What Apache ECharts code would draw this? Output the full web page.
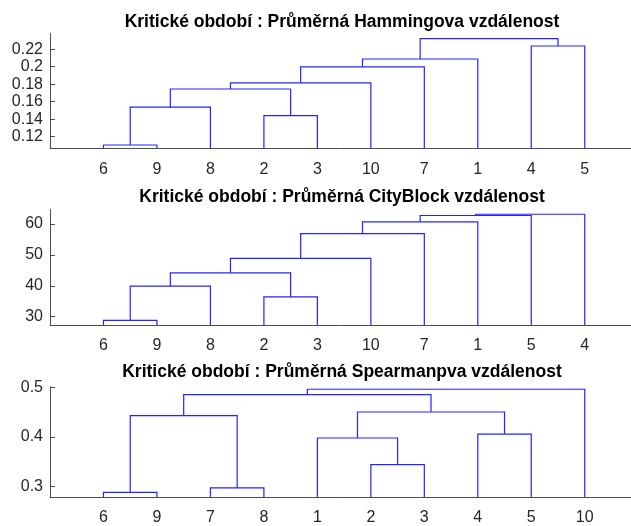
<!DOCTYPE html>
<html>
<head>
<meta charset="utf-8">
<script src="https://cdn.jsdelivr.net/npm/echarts@6/dist/echarts.min.js"></script>
<style>
  html, body { margin: 0; padding: 0; background: #fff; }
  #chart { width: 631px; height: 526px; }
</style>
</head>
<body>
<div id="chart"></div>
<script>
// Leaf order along the x axis for each dendrogram
const hammingOrder   = [6, 9, 8, 2, 3, 10, 7, 1, 4, 5];
const cityBlockOrder = [6, 9, 8, 2, 3, 10, 7, 1, 5, 4];
const spearmanOrder  = [6, 9, 7, 8, 1, 2, 3, 4, 5, 10];

// Linkage rows [childA, childB, height]; leaves are 1..10, clusters 11..19
const hammingLinks = [
  [6, 9, 0.1105],
  [2, 3, 0.1440],
  [11, 8, 0.1537],
  [13, 12, 0.1745],
  [14, 10, 0.1815],
  [15, 7, 0.1997],
  [16, 1, 0.2088],
  [4, 5, 0.2237],
  [17, 18, 0.2322]
];
const cityBlockLinks = [
  [6, 9, 28.8],
  [2, 3, 36.4],
  [11, 8, 39.9],
  [13, 12, 44.2],
  [14, 10, 48.9],
  [15, 7, 56.9],
  [16, 1, 60.7],
  [17, 5, 62.75],
  [18, 4, 63.15]
];
const spearmanLinks = [
  [6, 9, 0.2875],
  [7, 8, 0.2967],
  [2, 3, 0.3440],
  [1, 13, 0.3980],
  [4, 5, 0.4060],
  [11, 12, 0.4435],
  [14, 15, 0.4507],
  [16, 17, 0.4860],
  [18, 10, 0.4968]
];

// y tick labels
const hammingTicks   = [0.12, 0.14, 0.16, 0.18, 0.2, 0.22];
const cityBlockTicks = [30, 40, 50, 60];
const spearmanTicks  = [0.3, 0.4, 0.5];

const titles = [
  'Kritické období : Průměrná Hammingova vzdálenost',
  'Kritické období : Průměrná CityBlock vzdálenost',
  'Kritické období : Průměrná Spearmanpva vzdálenost'
];

// Turn linkage rows into U-shaped link records in data units
function buildLinks(order, Z) {
  const n = order.length;
  const nodes = {};
  order.forEach((leaf, i) => { nodes[leaf] = { x: i + 1, h: 0, leaf: 1 }; });
  const out = [];
  Z.forEach((row, j) => {
    const a = nodes[row[0]], b = nodes[row[1]], h = row[2];
    out.push([a.x, a.h, b.x, b.h, h, a.leaf, b.leaf]);
    nodes[n + 1 + j] = { x: (a.x + b.x) / 2, h: h, leaf: 0 };
  });
  return out;
}

const FONT = "'Liberation Sans', Arial, sans-serif";
const AXIS_COLOR = '#4d4d4d';
const TEXT_COLOR = '#262626';
const LINK_COLOR = '#2424ff';

const panels = [
  { order: hammingOrder,   links: hammingLinks,   ticks: hammingTicks,   min: 0.1067, max: 0.2382, top: 33.3,  height: 115, titleY: 22 },
  { order: cityBlockOrder, links: cityBlockLinks, ticks: cityBlockTicks, min: 27.31,  max: 64.76,  top: 209.3, height: 115.7, titleY: 197 },
  { order: spearmanOrder,  links: spearmanLinks,  ticks: spearmanTicks,  min: 0.2783, max: 0.502,  top: 386.7, height: 113.3, titleY: 372 }
];

function renderLink(params, api) {
  const base = params.coordSys.y + params.coordSys.height;
  const xa = api.value(0), ya = api.value(1), xb = api.value(2), yb = api.value(3), h = api.value(4);
  const pA = api.coord([xa, ya]);
  const pB = api.coord([xb, yb]);
  const hA = api.coord([xa, h]);
  const hB = api.coord([xb, h]);
  const yA = api.value(5) ? base : pA[1];
  const yB = api.value(6) ? base : pB[1];
  return {
    type: 'polyline',
    shape: { points: [[pA[0], yA], hA, hB, [pB[0], yB]] },
    style: { fill: null, stroke: LINK_COLOR, lineWidth: 1.2 }
  };
}

const option = {
  animation: false,
  backgroundColor: '#fff',
  grid: panels.map(p => ({ left: 50, right: 0, top: p.top, height: p.height, containLabel: false })),
  xAxis: panels.map((p, i) => ({
    type: 'value', gridIndex: i, min: 0, max: 10.865,
    axisLine: { show: true, lineStyle: { color: AXIS_COLOR, width: 1 } },
    axisTick: { show: false },
    splitLine: { show: false },
    axisLabel: {
      customValues: p.order.map((_, k) => k + 1),
      formatter: v => String(p.order[Math.round(v) - 1]),
      color: TEXT_COLOR, fontFamily: FONT, fontSize: 16, margin: 13
    }
  })),
  yAxis: panels.map((p, i) => ({
    type: 'value', gridIndex: i, min: p.min, max: p.max,
    axisLine: { show: true, lineStyle: { color: AXIS_COLOR, width: 1 } },
    axisTick: { show: true, inside: true, length: 5, customValues: p.ticks, lineStyle: { color: AXIS_COLOR } },
    splitLine: { show: false },
    axisLabel: { customValues: p.ticks, color: TEXT_COLOR, fontFamily: FONT, fontSize: 16, margin: 7 }
  })),
  graphic: panels.map((p, i) => ({
    type: 'text', x: 342, y: p.titleY,
    style: { text: titles[i], fill: '#000', font: "bold 17.5px " + FONT, align: 'center', verticalAlign: 'middle' }
  })),
  series: panels.map((p, i) => ({
    type: 'custom', xAxisIndex: i, yAxisIndex: i,
    renderItem: renderLink,
    encode: { x: [0, 2], y: [1, 3, 4] },
    data: buildLinks(p.order, p.links),
    clip: false
  }))
};

echarts.init(document.getElementById('chart'), null, { renderer: 'canvas' }).setOption(option);
</script>
</body>
</html>
